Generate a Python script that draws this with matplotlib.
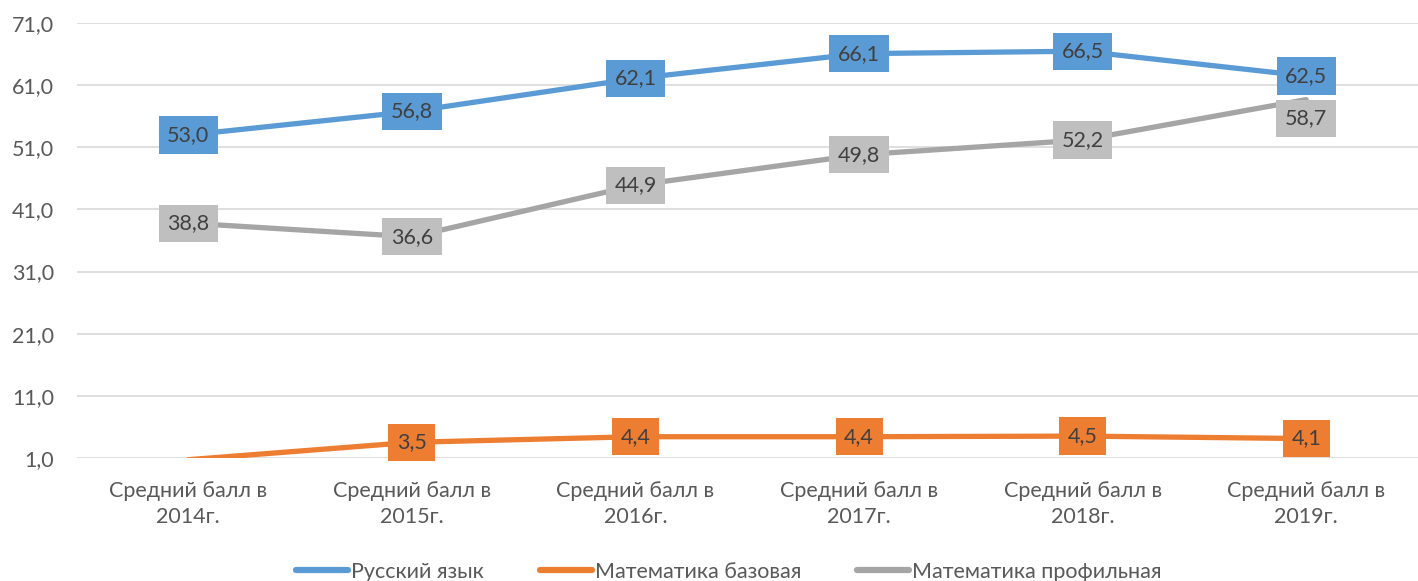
import matplotlib.pyplot as plt
from matplotlib.lines import Line2D

plt.rcParams['font.family'] = ['Lato', 'DejaVu Sans']

categories = ['Средний балл в\n2014г.', 'Средний балл в\n2015г.', 'Средний балл в\n2016г.',
              'Средний балл в\n2017г.', 'Средний балл в\n2018г.', 'Средний балл в\n2019г.']
russian = [53.0, 56.8, 62.1, 66.1, 66.5, 62.5]
math_base = [0.7, 3.5, 4.4, 4.4, 4.5, 4.1]
math_prof = [38.8, 36.6, 44.9, 49.8, 52.2, 58.7]
yticks = [1, 11, 21, 31, 41, 51, 61, 71]

series = [
    ('Русский язык', russian, '#5B9BD5', '#5B9BD5'),
    ('Математика базовая', math_base, '#ED7D31', '#ED7D31'),
    ('Математика профильная', math_prof, '#A5A5A5', '#BFBFBF'),
]

fig = plt.figure(figsize=(14.18, 5.81), dpi=100)
ax = fig.add_axes([0.054, 0.212, 0.946, 0.748])
x = list(range(len(categories)))

for name, vals, col, boxcol in series:
    ax.plot(x, vals, color=col, lw=3.8, solid_capstyle='round', zorder=2)
    for xi, v in zip(x, vals):
        if v < yticks[0]:
            continue  # out of axis range, Excel hides it
        dy = 0
        if name == 'Математика профильная' and xi == 5:
            dy = -3.0  # label pushed down to avoid overlap
        ax.text(xi, v + dy, f'{v:.1f}'.replace('.', ','), ha='center', va='center',
                fontsize=15.5, color='#404040', zorder=3,
                bbox=dict(boxstyle='square,pad=0.4', fc=boxcol, ec='none'))

ax.set_xlim(-0.5, len(categories) - 0.5)
ax.set_ylim(1, 71)
ax.set_yticks(yticks)
ax.set_yticklabels([f'{t:.1f}'.replace('.', ',') for t in yticks])
ax.set_xticks(x)
ax.set_xticklabels(categories, linespacing=1.35)
ax.tick_params(length=0, labelsize=15.5, labelcolor='#595959')
ax.tick_params(axis='x', pad=17)
ax.tick_params(axis='y', pad=16)
ax.grid(axis='y', color='#D9D9D9', lw=1.2)
ax.set_axisbelow(True)
for s in ax.spines.values():
    s.set_visible(False)

handles = [Line2D([], [], color=c, lw=4.5, solid_capstyle='round') for _, _, c, _ in series]
fig.legend(handles, [s[0] for s in series], loc='lower center', ncol=3, frameon=False,
           fontsize=15.5, labelcolor='#595959', bbox_to_anchor=(0.514, -0.035),
           handlelength=2.4, handletextpad=0.15, columnspacing=2.6)

fig.savefig('out.png', dpi=100)
